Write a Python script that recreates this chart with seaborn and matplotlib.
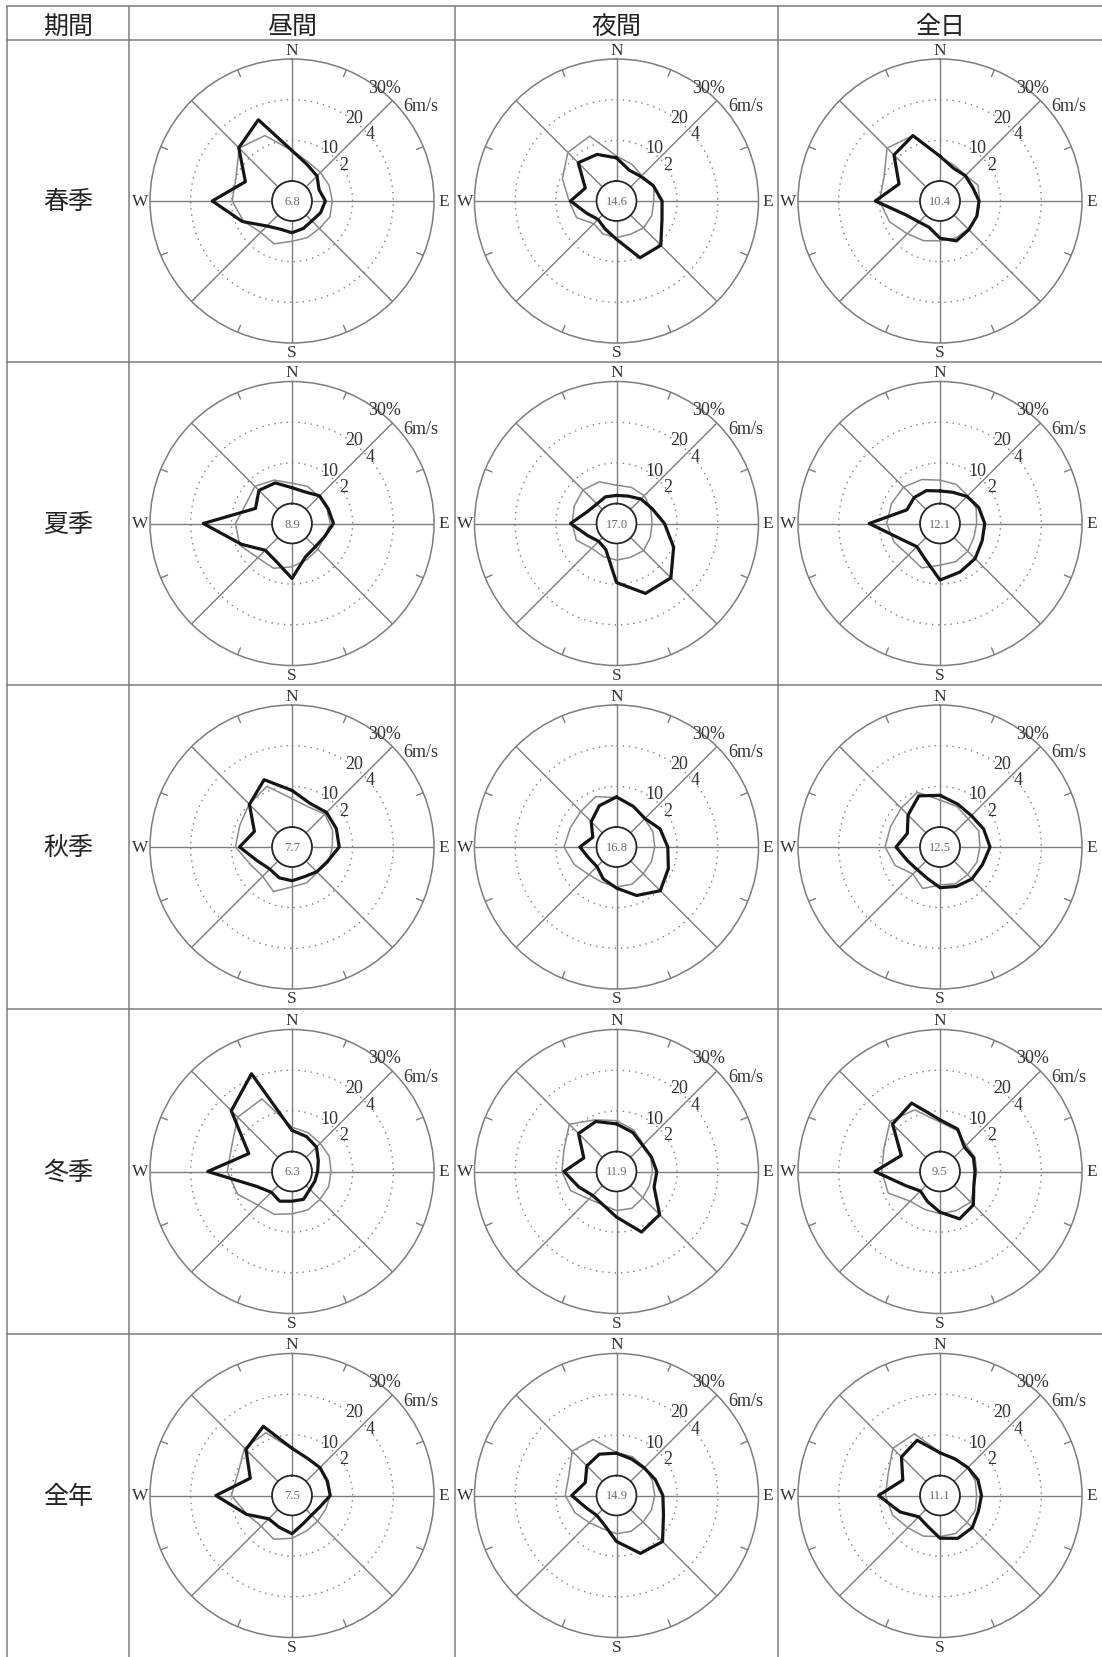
import numpy as np
import pandas as pd
import matplotlib
matplotlib.use("Agg")
import matplotlib.pyplot as plt
import seaborn as sns

DIRECTIONS = ["N", "NNE", "NE", "ENE", "E", "ESE", "SE", "SSE",
              "S", "SSW", "SW", "WSW", "W", "WNW", "NW", "NNW"]
PERIODS = ["昼間", "夜間", "全日"]
SEASONS = ["春季", "夏季", "秋季", "冬季", "全年"]

# calm (%) shown in the centre circle, by season
calm_day = [6.8, 8.9, 7.7, 6.3, 7.5]
calm_night = [14.6, 17.0, 16.8, 11.9, 14.9]
calm_all = [10.4, 12.1, 12.5, 9.5, 11.1]

# frequency (%) and mean speed (m/s) per direction, N clockwise
spring_day_freq = [7.5, 4.8, 3.8, 2.3, 3.3, 2.7, 2.0, 2.4, 2.9, 2.6, 3.8, 8.3, 14.7, 7.5, 13.6, 16.7]
spring_day_speed = [1.5, 1.1, 1.0, 1.0, 1.0, 1.04, 0.93, 0.97, 1.0, 1.3, 1.2, 1.6, 1.96, 2.0, 2.7, 2.5]
spring_night_freq = [5.7, 3.3, 3.6, 4.9, 6.3, 7.2, 10.5, 10.2, 4.5, 2.5, 1.5, 3.0, 6.4, 3.4, 8.4, 7.5]
spring_night_speed = [1.23, 0.98, 0.78, 1.02, 0.85, 0.9, 0.9, 0.79, 0.82, 0.77, 0.6, 1.15, 1.35, 1.9, 2.4, 2.47]
spring_all_freq = [6.1, 3.8, 3.9, 3.8, 4.7, 4.9, 5.1, 5.7, 4.25, 2.1, 2.4, 4.1, 11.0, 6.0, 11.1, 12.5]
spring_all_speed = [1.2, 0.9, 0.8, 1.05, 0.97, 1.0, 0.97, 1.0, 0.98, 1.13, 1.3, 1.7, 2.0, 2.0, 2.7, 2.5]

summer_day_freq = [3.9, 3.5, 4.7, 4.7, 5.3, 3.7, 3.2, 3.9, 8.6, 5.2, 4.4, 8.5, 16.9, 4.8, 6.6, 5.9]
summer_day_speed = [1.0, 1.0, 0.9, 0.88, 0.9, 0.75, 0.82, 0.94, 1.15, 1.4, 1.4, 1.8, 1.8, 1.48, 1.6, 1.33]
summer_night_freq = [2.0, 2.4, 3.6, 4.6, 6.9, 10.3, 14.0, 13.7, 9.6, 2.0, 1.3, 2.8, 6.4, 2.8, 1.9, 2.2]
summer_night_speed = [0.9, 0.94, 0.95, 0.85, 0.77, 0.82, 0.9, 0.82, 0.82, 0.77, 0.74, 1.16, 1.2, 1.27, 1.35, 1.24]
summer_all_freq = [3.1, 3.4, 4.5, 5.4, 6.1, 6.3, 7.3, 8.0, 9.0, 4.6, 3.15, 5.3, 12.5, 3.9, 4.1, 3.85]
summer_all_speed = [1.15, 1.1, 0.95, 0.95, 0.82, 0.82, 0.95, 1.05, 1.07, 1.38, 1.22, 1.45, 1.64, 1.6, 1.55, 1.36]

autumn_day_freq = [9.0, 6.7, 7.1, 6.9, 6.7, 4.5, 3.7, 3.0, 3.4, 3.3, 2.8, 4.2, 8.0, 5.1, 9.9, 13.0]
autumn_day_speed = [1.4, 1.15, 1.3, 1.18, 1.0, 0.97, 0.78, 0.92, 0.98, 1.39, 1.06, 1.24, 1.8, 1.8, 2.0, 2.25]
autumn_night_freq = [7.4, 5.9, 5.0, 6.7, 7.7, 8.9, 10.3, 8.0, 5.2, 3.6, 1.9, 2.4, 4.1, 1.4, 3.9, 6.1]
autumn_night_speed = [1.45, 1.18, 0.98, 0.96, 0.9, 0.88, 0.88, 1.0, 0.98, 0.9, 0.94, 1.27, 1.6, 1.48, 1.5, 1.7]
autumn_all_freq = [7.8, 6.5, 6.0, 6.7, 7.4, 6.4, 6.2, 5.6, 5.1, 3.4, 3.0, 3.8, 5.9, 3.8, 6.2, 8.7]
autumn_all_speed = [1.33, 1.18, 0.98, 1.08, 0.98, 0.98, 0.94, 0.98, 0.88, 1.23, 0.9, 1.4, 1.72, 1.65, 1.72, 1.93]

winter_day_freq = [5.2, 4.4, 3.6, 2.1, 1.4, 1.2, 1.3, 2.5, 2.4, 3.0, 2.3, 4.6, 15.8, 6.6, 16.2, 21.1]
winter_day_speed = [1.2, 1.08, 0.98, 1.0, 0.94, 0.97, 0.96, 1.06, 1.1, 1.3, 1.37, 1.92, 2.2, 2.23, 2.8, 2.88]
winter_night_freq = [6.8, 5.5, 4.2, 4.4, 5.0, 5.1, 10.1, 11.2, 6.3, 3.9, 3.4, 5.1, 8.0, 3.8, 8.3, 8.4]
winter_night_speed = [1.52, 1.23, 0.9, 0.84, 0.79, 0.78, 0.85, 0.98, 0.94, 0.79, 0.94, 1.47, 1.7, 1.82, 2.3, 1.77]
winter_all_freq = [7.8, 6.4, 3.6, 4.0, 3.7, 4.1, 6.7, 7.7, 5.1, 3.1, 1.9, 4.2, 11.1, 5.4, 11.6, 13.3]
winter_all_speed = [1.45, 1.2, 0.84, 0.88, 0.82, 0.85, 1.15, 1.1, 1.1, 1.03, 1.09, 1.78, 1.88, 2.0, 2.5, 2.3]

annual_day_freq = [6.7, 5.0, 4.8, 4.5, 4.5, 2.5, 1.9, 2.5, 4.5, 3.5, 3.2, 7.2, 13.8, 6.2, 11.1, 13.5]
annual_day_speed = [1.3, 1.0, 0.95, 0.84, 0.9, 0.81, 0.8, 0.9, 1.12, 1.35, 1.16, 1.42, 2.0, 1.89, 2.32, 2.36]
annual_night_freq = [5.5, 4.8, 4.7, 5.4, 6.5, 7.6, 11.1, 10.5, 6.4, 2.9, 2.0, 3.1, 6.1, 3.4, 5.4, 6.1]
annual_night_speed = [1.13, 1.08, 0.98, 0.93, 0.9, 0.88, 0.86, 0.92, 0.9, 0.79, 0.91, 1.23, 1.54, 1.56, 2.1, 2.0]
annual_all_freq = [5.6, 4.8, 4.8, 5.2, 5.3, 5.3, 6.3, 6.5, 5.6, 3.2, 2.5, 5.7, 10.2, 5.0, 8.5, 9.8]
annual_all_speed = [1.15, 1.0, 0.95, 0.9, 0.82, 0.9, 0.9, 1.04, 1.04, 1.18, 1.26, 1.54, 1.7, 1.78, 2.3, 2.3]

ROSES = {
    ("春季", "昼間"): (spring_day_freq, spring_day_speed),
    ("春季", "夜間"): (spring_night_freq, spring_night_speed),
    ("春季", "全日"): (spring_all_freq, spring_all_speed),
    ("夏季", "昼間"): (summer_day_freq, summer_day_speed),
    ("夏季", "夜間"): (summer_night_freq, summer_night_speed),
    ("夏季", "全日"): (summer_all_freq, summer_all_speed),
    ("秋季", "昼間"): (autumn_day_freq, autumn_day_speed),
    ("秋季", "夜間"): (autumn_night_freq, autumn_night_speed),
    ("秋季", "全日"): (autumn_all_freq, autumn_all_speed),
    ("冬季", "昼間"): (winter_day_freq, winter_day_speed),
    ("冬季", "夜間"): (winter_night_freq, winter_night_speed),
    ("冬季", "全日"): (winter_all_freq, winter_all_speed),
    ("全年", "昼間"): (annual_day_freq, annual_day_speed),
    ("全年", "夜間"): (annual_night_freq, annual_night_speed),
    ("全年", "全日"): (annual_all_freq, annual_all_speed),
}
CALM = {"昼間": calm_day, "夜間": calm_night, "全日": calm_all}

W, H = 1102, 1658
COL_X = [7, 129, 455, 778]
ROW_Y = [7, 41, 363, 686, 1010, 1335]
RING_PX = 142       # outer ring radius in pixels
HOLE = 4.9          # calm circle radius, in % units
SPEED_TO_PCT = 5.0  # 2 m/s ring == 10 % ring

GRID = "#7d7d7d"
SERIF = ["Liberation Serif", "DejaVu Serif"]

sns.set_theme(style="white")
plt.rcParams["font.family"] = ["Noto Sans CJK JP", "DejaVu Sans"]

theta = np.deg2rad(np.arange(16) * 22.5)
rows = []
for (season, period), (freq, speed) in ROSES.items():
    for i in range(17):
        k = i % 16
        rows.append({"season": season, "period": period, "theta": theta[k] if i < 16 else 2 * np.pi,
                     "freq": freq[k], "speed": speed[k]})
df = pd.DataFrame(rows)
df["speed_r"] = df["speed"] * SPEED_TO_PCT

fig = plt.figure(figsize=(W / 100, H / 100), dpi=100)
bg = fig.add_axes([0, 0, 1, 1])
bg.set_xlim(0, W)
bg.set_ylim(H, 0)
bg.axis("off")

# table frame
for x in COL_X:
    bg.plot([x, x], [ROW_Y[0], H], color=GRID, lw=1.1)
for y in ROW_Y:
    bg.plot([COL_X[0], W], [y, y], color=GRID, lw=1.1)

bg.text((COL_X[0] + COL_X[1]) / 2, 27, "期間", ha="center", va="center", fontsize=18, color="#222")
for j, p in enumerate(PERIODS):
    cx = (COL_X[j + 1] + (COL_X[j + 2] if j < 2 else W)) / 2
    bg.text(cx, 27, p, ha="center", va="center", fontsize=18, color="#222")
for i, s in enumerate(SEASONS):
    cy = (ROW_Y[i + 1] + (ROW_Y[i + 2] if i < 4 else H)) / 2
    bg.text((COL_X[0] + COL_X[1]) / 2, cy, s, ha="center", va="center", fontsize=18, color="#222")

ring = np.linspace(0, 2 * np.pi, 361)
for i, s in enumerate(SEASONS):
    cy = (ROW_Y[i + 1] + (ROW_Y[i + 2] if i < 4 else H)) / 2
    for j, p in enumerate(PERIODS):
        cx = (COL_X[j + 1] + (COL_X[j + 2] if j < 2 else W)) / 2
        ax = fig.add_axes([(cx - RING_PX) / W, 1 - (cy + RING_PX) / H,
                           2 * RING_PX / W, 2 * RING_PX / H], projection="polar")
        ax.set_facecolor("none")
        ax.set_theta_zero_location("N")
        ax.set_theta_direction(-1)
        ax.grid(False)
        for name, sp in ax.spines.items():
            sp.set_visible(name == "polar")
        ax.spines["polar"].set_color(GRID)
        ax.spines["polar"].set_linewidth(1.1)

        # rings, spokes and ticks
        ax.plot(ring, np.zeros_like(ring), color=GRID, lw=1.0)
        for r in (10, 20):
            ax.plot(ring, np.full_like(ring, r), color=GRID, lw=1.0, ls=(0, (1, 3.5)))
        for a in np.deg2rad(np.arange(0, 360, 45)):
            ax.plot([a, a], [0, 30], color=GRID, lw=1.0)
        for a in np.deg2rad(np.arange(22.5, 360, 45)):
            ax.plot([a, a], [28.2, 30], color=GRID, lw=1.0)

        sub = df[(df["season"] == s) & (df["period"] == p)]
        sns.lineplot(data=sub, x="theta", y="speed_r", sort=False, estimator=None,
                     color="#8a8a8a", linewidth=1.1, ax=ax)
        sns.lineplot(data=sub, x="theta", y="freq", sort=False, estimator=None,
                     color="#151515", linewidth=2.3, ax=ax)

        ax.set_xlim(0, 2 * np.pi)
        ax.set_ylim(0, 30)
        ax.set_rorigin(-HOLE)
        ax.set_xticks([])
        ax.set_yticks([])
        ax.set_xlabel("")
        ax.set_ylabel("")

        ax.text(0.5, 0.5, f"{CALM[p][i]:.1f}", transform=ax.transAxes, ha="center", va="center",
                fontsize=9, color="#6a6a6a", family=SERIF)
        for lab, a in zip("NESW", (0, 90, 180, 270)):
            ax.text(np.deg2rad(a), 32.3, lab, ha="center", va="center", fontsize=12.5,
                    color="#333", family=SERIF, clip_on=False)
        for txt, a, r in (("10", 35.2, 11.1), ("2", 54.6, 10.6), ("20", 36.6, 20.8),
                          ("4", 49.3, 20.5), ("30%", 39.0, 31.1), ("6m/s", 53.6, 34.5)):
            ax.text(np.deg2rad(a), r, txt, ha="center", va="center", fontsize=13,
                    color="#333", family=SERIF, clip_on=False)

fig.savefig("out.png", dpi=100, facecolor="white")
